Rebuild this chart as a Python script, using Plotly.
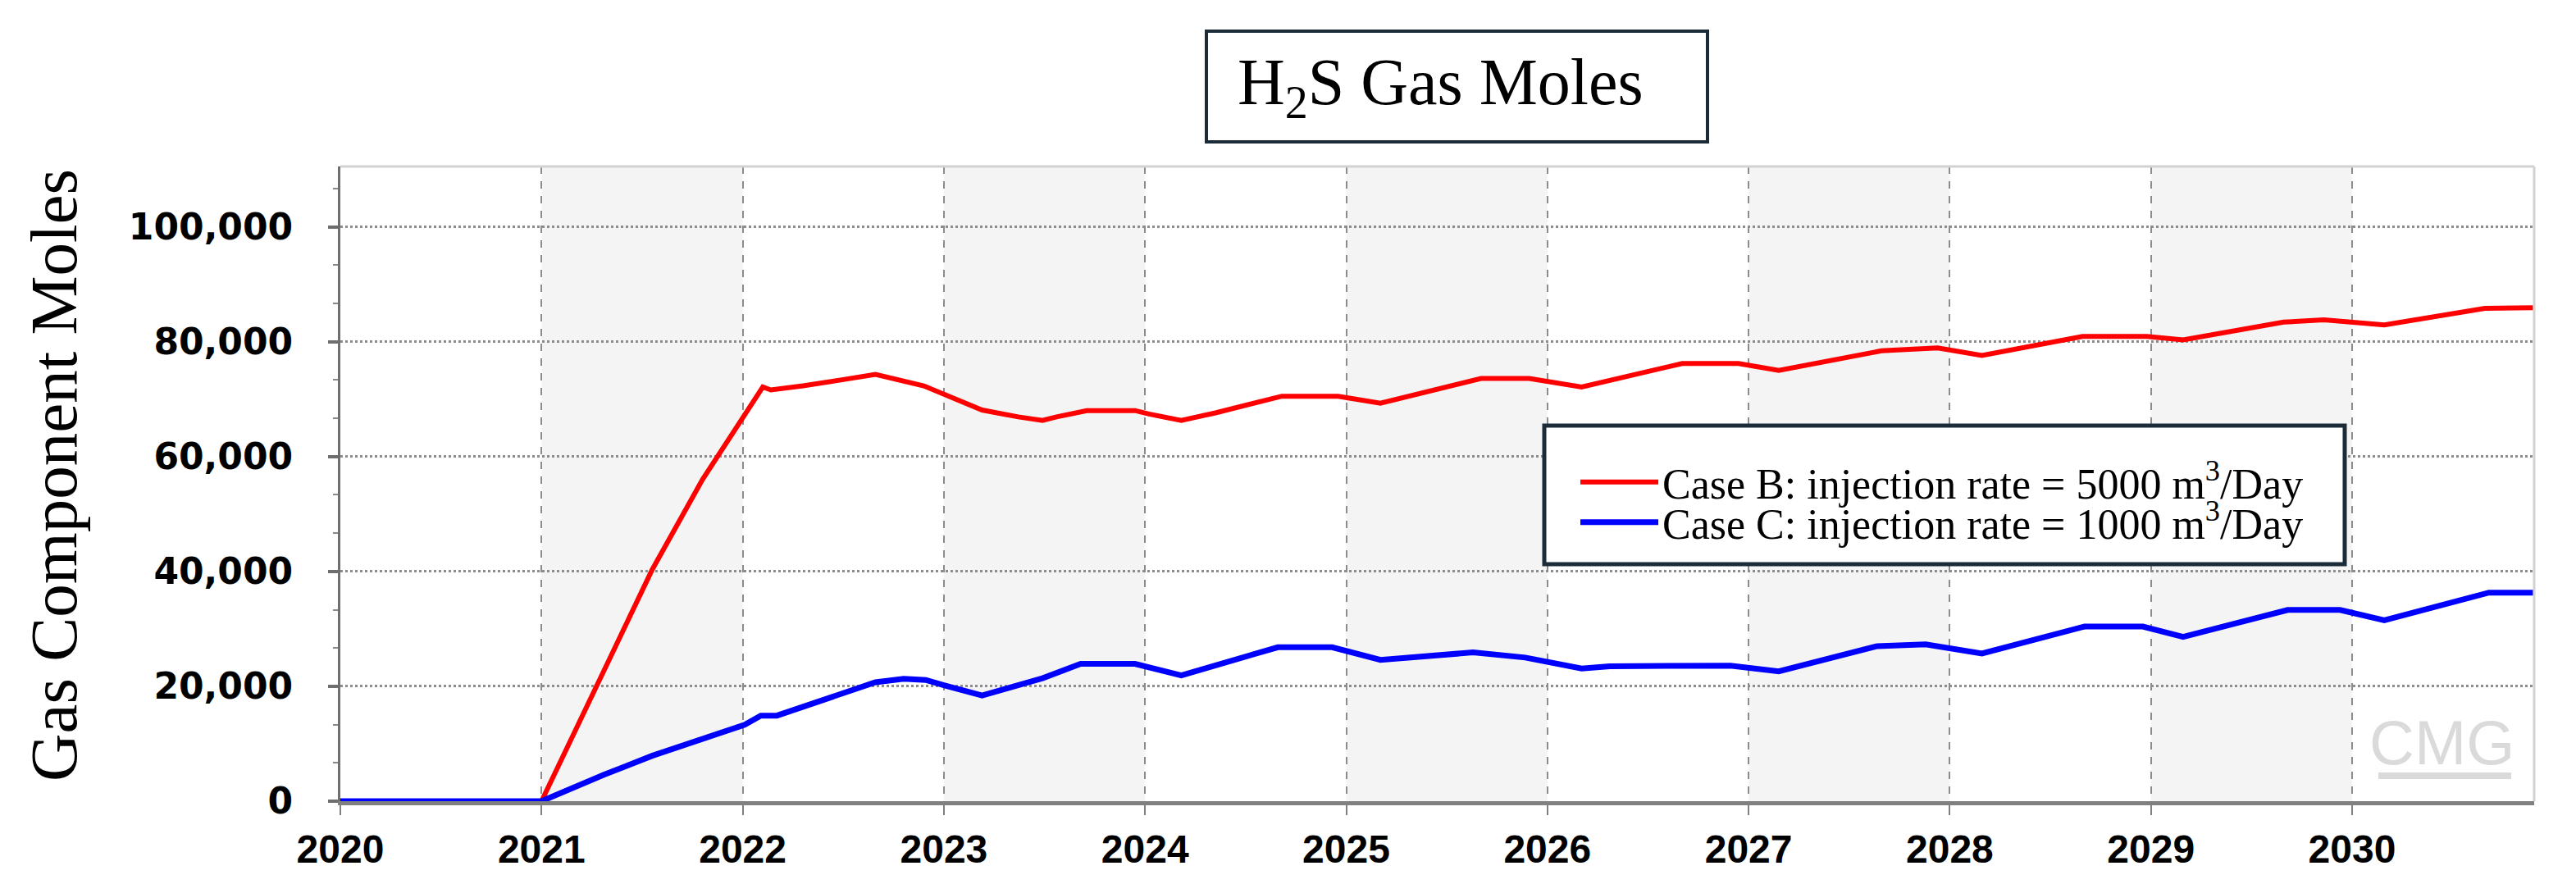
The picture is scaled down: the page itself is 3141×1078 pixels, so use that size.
import plotly.graph_objects as go

# ---------------- data ----------------
years = [2020, 2021, 2022, 2023, 2024, 2025, 2026, 2027, 2028, 2029, 2030]
year_labels = [str(y) for y in years]

caseB_t = [2020.00, 2021.00, 2021.31, 2021.55, 2021.80, 2022.10, 2022.14, 2022.30,
           2022.50, 2022.66, 2022.90, 2023.00, 2023.19, 2023.37, 2023.49, 2023.56,
           2023.71, 2023.95, 2024.02, 2024.18, 2024.35, 2024.68, 2024.96, 2025.17,
           2025.67, 2025.91, 2026.17, 2026.67, 2026.95, 2027.15, 2027.66, 2027.94,
           2028.16, 2028.66, 2028.98, 2029.16, 2029.66, 2029.86, 2029.98, 2030.16,
           2030.66, 2030.90]
caseB_moles = [0, 0, 22700, 40300, 56000, 72100, 71600, 72300,
               73400, 74300, 72300, 70900, 68100, 66900, 66300, 66900,
               68000, 68000, 67400, 66300, 67600, 70500, 70500, 69300,
               73600, 73600, 72100, 76200, 76200, 75000, 78400, 78900,
               77600, 80900, 80900, 80300, 83400, 83800, 83400, 82900,
               85800, 85900]

caseC_t = [2020.00, 2021.00, 2021.31, 2021.55, 2022.01, 2022.09, 2022.17, 2022.43,
           2022.66, 2022.80, 2022.91, 2023.00, 2023.19, 2023.49, 2023.68, 2023.95,
           2024.18, 2024.66, 2024.93, 2025.17, 2025.39, 2025.63, 2025.89, 2026.17,
           2026.31, 2026.59, 2026.91, 2027.15, 2027.64, 2027.88, 2028.16, 2028.67,
           2028.96, 2029.16, 2029.68, 2029.94, 2030.16, 2030.68, 2030.90]
caseC_moles = [0, 0, 4600, 7900, 13300, 14900, 14900, 17900,
               20700, 21300, 21100, 20200, 18400, 21400, 23900, 23900,
               21900, 26800, 26800, 24600, 25300, 25900, 25000, 23100,
               23500, 23600, 23600, 22600, 27000, 27300, 25700, 30400,
               30400, 28600, 33300, 33300, 31500, 36300, 36300]

y_ticks = [0, 20000, 40000, 60000, 80000, 100000]

name_B = "Case B: injection rate = 5000 m<sup>3</sup>/Day"
name_C = "Case C: injection rate = 1000 m<sup>3</sup>/Day"
title_text = "H<sub>2</sub>S Gas Moles"
y_title = "Gas Component Moles"

# ---------------- figure ----------------
W, H = 3141, 1078
L, R, T, B = 415, 51, 203, 101
pw, ph = W - L - R, H - T - B


def px_x(p):
    return (p - L) / pw


def px_y(p):
    return (H - B - p) / ph


serif = "Liberation Serif, Times New Roman, serif"

fig = go.Figure()
fig.add_trace(go.Scatter(x=caseB_t, y=caseB_moles, mode="lines", name=name_B,
                         line=dict(color="#ff0000", width=6), legend="legend"))
fig.add_trace(go.Scatter(x=caseC_t, y=caseC_moles, mode="lines", name=name_C,
                         line=dict(color="#0000ff", width=7), legend="legend2"))

shapes = []
# alternating bands
for i, yv in enumerate(years):
    if i % 2 == 1:
        shapes.append(dict(type="rect", xref="x", yref="paper", x0=yv, x1=yv + 1,
                           y0=0, y1=1, fillcolor="#f4f4f4", line=dict(width=0),
                           layer="below"))
# top and right frame
shapes.append(dict(type="line", xref="paper", yref="paper", x0=0, x1=1, y0=1, y1=1,
                   line=dict(color="#d2d2d2", width=3), layer="above"))
shapes.append(dict(type="line", xref="paper", yref="paper", x0=1, x1=1, y0=0, y1=1,
                   line=dict(color="#d2d2d2", width=3), layer="above"))
# title box
shapes.append(dict(type="rect", xref="paper", yref="paper",
                   x0=px_x(1471), x1=px_x(2082), y0=px_y(173), y1=px_y(38),
                   fillcolor="white", line=dict(color="#1b2c38", width=4)))
# legend box
shapes.append(dict(type="rect", xref="paper", yref="paper",
                   x0=px_x(1883), x1=px_x(2859), y0=px_y(688), y1=px_y(519),
                   fillcolor="white", line=dict(color="#1b2c38", width=5),
                   layer="above"))
# CMG logo swoosh
shapes.append(dict(type="line", xref="paper", yref="paper",
                   x0=px_x(2900), x1=px_x(3062), y0=px_y(946), y1=px_y(946),
                   line=dict(color="#dadada", width=8), layer="below"))

annotations = [
    dict(text=title_text, xref="paper", yref="paper", x=px_x(1756), y=px_y(106),
         xanchor="center", yanchor="middle", showarrow=False,
         font=dict(family=serif, size=80, color="black")),
    dict(text=y_title, xref="paper", yref="paper", x=px_x(66), y=px_y(580),
         xanchor="center", yanchor="middle", textangle=-90, showarrow=False,
         font=dict(family=serif, size=81, color="black")),
    dict(text="CMG", xref="paper", yref="paper", x=px_x(2977), y=px_y(905),
         xanchor="center", yanchor="middle", showarrow=False,
         font=dict(family="Liberation Sans Narrow, Liberation Sans, sans-serif",
                   size=76, color="#dadada")),
]

legend_common = dict(xref="paper", yref="paper", xanchor="left", yanchor="middle",
                     bgcolor="rgba(0,0,0,0)", borderwidth=0, itemwidth=95,
                     font=dict(family=serif, size=52, color="black"))

fig.update_layout(
    width=W, height=H,
    margin=dict(l=L, r=R, t=T, b=B, pad=0),
    paper_bgcolor="white", plot_bgcolor="white",
    shapes=shapes, annotations=annotations,
    legend=dict(x=px_x(1922), y=px_y(588), **legend_common),
    legend2=dict(x=px_x(1922), y=px_y(637), **legend_common),
    showlegend=True,
)

fig.update_xaxes(
    range=[2020, 2030.905], tickmode="array", tickvals=years, ticktext=year_labels,
    showline=True, linecolor="#808080", linewidth=5,
    ticks="outside", ticklen=12, tickwidth=2, tickcolor="#808080",
    showgrid=True, gridcolor="#8c8c8c", gridwidth=2, griddash="dash",
    zeroline=False,
    tickfont=dict(family="Liberation Sans Narrow, Arial Narrow, Liberation Sans, sans-serif",
                  size=48, color="black", weight="bold"),
)
fig.update_yaxes(
    range=[0, 110500], tickmode="array", tickvals=y_ticks, tickformat=",d",
    showline=True, linecolor="#6e6e6e", linewidth=3,
    ticks="outside", ticklen=12, tickwidth=4, tickcolor="#6e6e6e",
    minor=dict(dtick=20000 / 3, tick0=0, ticks="outside", ticklen=6, tickwidth=2,
               tickcolor="#8a8a8a", showgrid=False),
    showgrid=True, gridcolor="#8c8c8c", gridwidth=3, griddash="dot",
    zeroline=False, ticklabelstandoff=34,
    tickfont=dict(family="DejaVu Sans, Verdana, sans-serif", size=44,
                  color="black", weight="bold"),
)

fig.write_html("out.html", config={"displayModeBar": False},
               post_script="document.body.style.margin='0';document.body.style.overflow='hidden';")
